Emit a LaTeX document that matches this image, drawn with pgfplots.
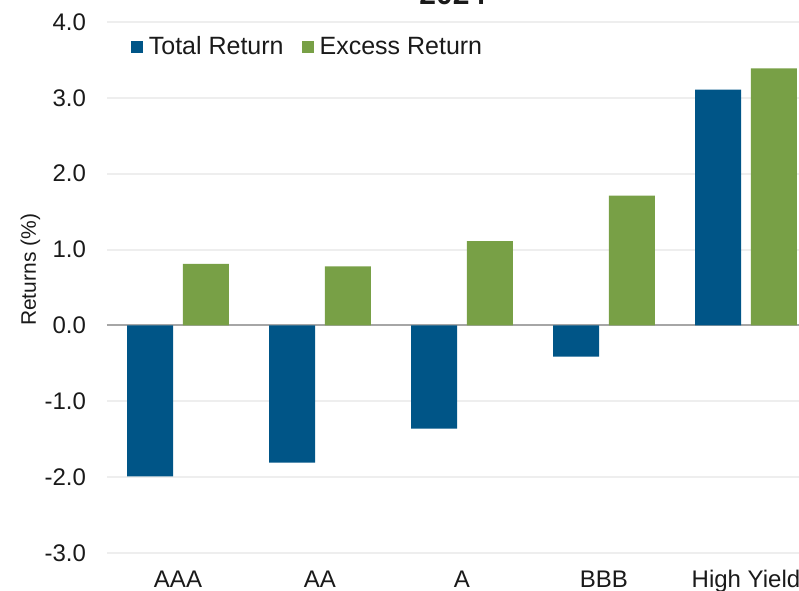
\documentclass[border=0pt]{standalone}
\usepackage{pgfplots}
\pgfplotsset{compat=1.18}
\usepackage{fontspec}
\setmainfont{Liberation Sans}
\definecolor{tblue}{HTML}{005587}
\definecolor{egreen}{HTML}{78A046}
\definecolor{gridc}{HTML}{EEEEEE}
\definecolor{zeroc}{HTML}{A6A6A6}
\definecolor{txt}{HTML}{1A1A1A}
\begin{document}
\begin{tikzpicture}
\begin{axis}[
  scale only axis,
  width=355pt, height=265.5pt,
  xmin=-0.5, xmax=4.5,
  ymin=-3, ymax=4,
  ybar, bar width=0.324,
  axis line style={draw=none},
  ytick={-3,-2,-1,0,1,2,3,4},
  yticklabels={-3.0,-2.0,-1.0,0.0,1.0,2.0,3.0,4.0},
  xtick={0,1,2,3,4},
  xticklabels={AAA,AA,A,BBB,High Yield},
  major tick length=0pt,
  ymajorgrids,
  grid style={gridc, line width=1pt},
  extra y ticks={0},
  extra y tick labels={},
  extra y tick style={grid style={zeroc, line width=1pt}},
  tick label style={font=\fontsize{12}{14}\selectfont, text=txt},
  yticklabel style={anchor=east, xshift=-7pt},
  xticklabel style={anchor=base, yshift=-17pt},
  ylabel={Returns (\%)},
  ylabel style={font=\fontsize{10.5}{12}\selectfont, text=txt, at={(axis description cs:-0.108,0.533)}, anchor=center, rotate=0},
  legend style={at={(axis description cs:0.033,0.953)}, anchor=west, draw=none, fill=none,
    font=\fontsize{12.5}{14}\selectfont, text=txt, inner sep=0pt,
    legend columns=2, /tikz/every even column/.append style={column sep=7pt},
    /tikz/every odd column/.append style={column sep=1pt}},
  legend image code/.code={\fill[#1] (0pt,-3pt) rectangle (6pt,3pt);},
  clip=false,
]
\addplot[fill=tblue, draw=none, bar shift=-0.197] coordinates {(0,-1.99) (1,-1.81) (2,-1.36) (3,-0.41) (4,3.11)};
\addplot[fill=egreen, draw=none, bar shift=0.197] coordinates {(0,0.81) (1,0.78) (2,1.11) (3,1.71) (4,3.39)};
\legend{Total Return, Excess Return}
\node[font=\bfseries\fontsize{15}{17}\selectfont, text=txt, anchor=base, inner sep=0pt] at (axis description cs:0.487,1.033) {2024};
\end{axis}
\pgfresetboundingbox
\path[use as bounding box] ([shift={(-53.5pt,-18.5pt)}]current axis.south west) rectangle ([shift={(346pt,276.5pt)}]current axis.south west);
\end{tikzpicture}
\end{document}
